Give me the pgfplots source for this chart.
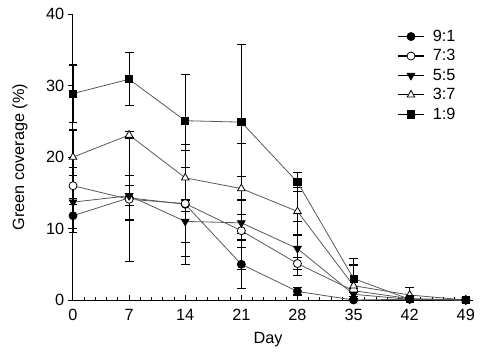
\documentclass[border=0pt]{standalone}
\usepackage{fontspec}
\setmainfont{Liberation Sans}
\usepackage{pgfplots}
\usepackage{pgfplotstable}
\pgfplotsset{compat=1.18}

% x  y  err+  err-
\pgfplotstableread{
x y ep em
0 11.8 2.4 2.4
7 14.3 3.1 3.1
14 13.4 8.4 8.4
21 5.0 3.4 3.4
28 1.2 0.5 0.5
35 0.0 0.0 0.0
42 0.1 0.0 0.0
49 0.0 0.0 0.0
}\tA
\pgfplotstableread{
x y ep em
0 16.0 2.6 2.6
7 14.1 8.7 8.7
14 13.5 7.4 7.4
21 9.7 2.3 2.3
28 5.1 0.8 0.8
35 1.3 0.3 0.3
42 0.2 0.0 0.0
49 0.0 0.0 0.0
}\tB
\pgfplotstableread{
x y ep em
0 13.7 3.7 3.7
7 14.6 1.4 1.4
14 11.0 3.0 3.0
21 10.8 6.5 6.5
28 7.2 3.8 3.8
35 0.8 0.3 0.3
42 0.1 0.0 0.0
49 0.0 0.0 0.0
}\tC
\pgfplotstableread{
x y ep em
0 20.0 3.8 3.8
7 23.1 0.5 0.5
14 17.1 4.7 4.7
21 15.6 6.3 6.3
28 12.4 3.3 3.3
35 2.0 2.9 2.0
42 0.7 1.1 0.7
49 0.0 0.0 0.0
}\tD
\pgfplotstableread{
x y ep em
0 28.9 4.0 4.0
7 30.9 3.7 3.7
14 25.1 6.5 6.5
21 24.9 10.9 10.9
28 16.5 1.3 1.3
35 3.0 2.8 2.8
42 0.1 0.0 0.0
49 0.0 0.0 0.0
}\tE

\begin{document}
\begin{tikzpicture}
\begin{axis}[
  name=ax, at={(0,0)}, anchor=south west,
  scale only axis, width=300pt, height=214.3pt,
  xmin=0, xmax=49.9, ymin=0, ymax=40,
  axis x line*=bottom, axis y line*=left,
  axis line style={black, line width=0.75pt},
  xtick={0,7,...,49}, ytick={0,10,20,30,40},
  minor x tick num=4,
  tick align=inside,
  major tick length=3.75pt, minor tick length=2.2pt,
  every tick/.style={black, line width=0.75pt},
  ytick style={xshift=-3.75pt},
  font=\fontsize{12.2}{14}\selectfont,
  /pgf/number format/assume math mode=true,
  xticklabel style={yshift=-3.5pt},
  yticklabel style={xshift=-3pt},
  xlabel={Day}, ylabel={Green coverage (\%)},
  xlabel style={at={(axis description cs:0.4875,-0.14)}, anchor=center},
  ylabel style={at={(axis description cs:-0.1325,0.5)}, anchor=center, rotate=0},
  clip=false,
  legend style={draw=none, fill=none, at={(axis cs:39.9,38.6)}, anchor=north west,
    row sep=0.6pt, font=\fontsize{12.2}{14}\selectfont,
    /tikz/every even column/.append style={column sep=1pt},
    /tikz/every odd column/.append style={column sep=4pt}},
  legend cell align=left,
  legend image code/.code={
    \draw[black, line width=0.9pt] (0cm,0cm) -- (0.7cm,0cm);
    \draw[#1, only marks] plot coordinates {(0.35cm,0cm)};
  },
  error bars/error bar style={black, line width=0.8pt},
  error bars/error mark options={rotate=90, black, line width=0.8pt, mark size=3.3pt},
]
\addplot[color=black!65, line width=0.6pt, mark=*, mark size=3pt, mark options={black, fill=black},
  error bars/.cd, y dir=both, y explicit]
  table[x=x, y=y, y error plus=ep, y error minus=em] {\tA};
\addlegendentry{9:1}
\addplot[color=black!65, line width=0.6pt, mark=*, mark size=3pt, mark options={black, fill=white, line width=0.6pt},
  error bars/.cd, y dir=both, y explicit]
  table[x=x, y=y, y error plus=ep, y error minus=em] {\tB};
\addlegendentry{7:3}
\addplot[color=black!65, line width=0.6pt, mark=triangle*, mark size=3.3pt, mark options={black, fill=black, rotate=180},
  error bars/.cd, y dir=both, y explicit]
  table[x=x, y=y, y error plus=ep, y error minus=em] {\tC};
\addlegendentry{5:5}
\addplot[color=black!65, line width=0.6pt, mark=triangle*, mark size=3.3pt, mark options={black, fill=white, line width=0.6pt},
  error bars/.cd, y dir=both, y explicit]
  table[x=x, y=y, y error plus=ep, y error minus=em] {\tD};
\addlegendentry{3:7}
\addplot[color=black!65, line width=0.6pt, mark=square*, mark size=2.7pt, mark options={black, fill=black},
  error bars/.cd, y dir=both, y explicit]
  table[x=x, y=y, y error plus=ep, y error minus=em] {\tE};
\addlegendentry{1:9}
\end{axis}
\pgfresetboundingbox
\path (-54.75pt,-42.75pt) rectangle (306pt,225pt);
\end{tikzpicture}
\end{document}
